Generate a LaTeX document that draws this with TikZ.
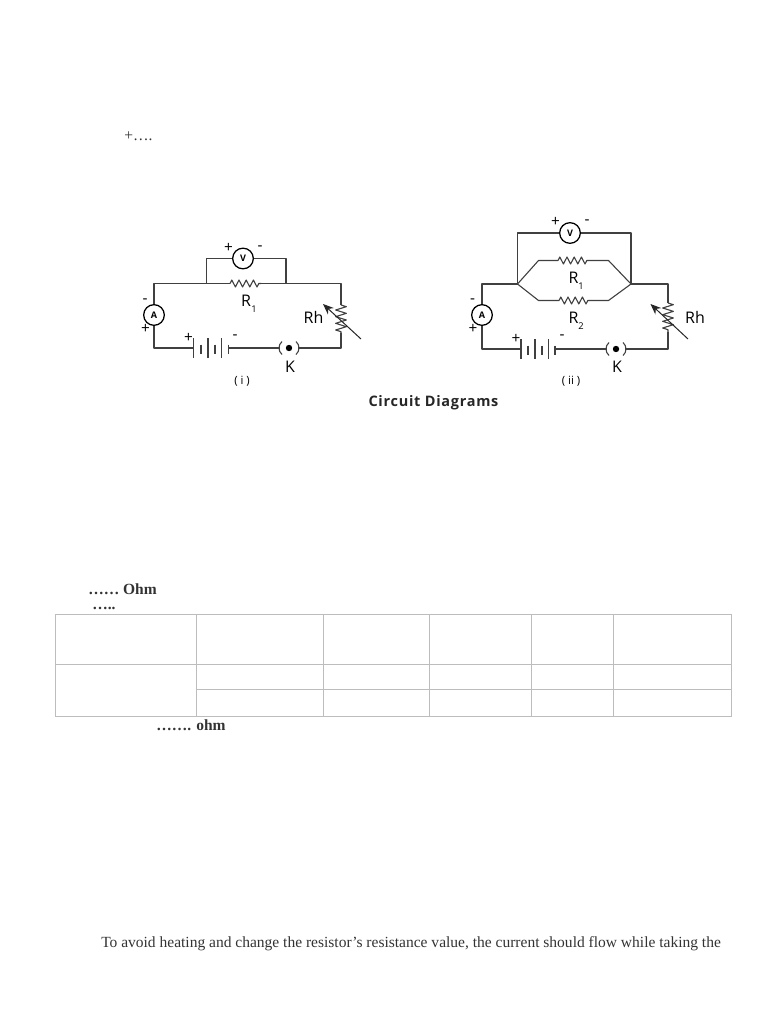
\documentclass[tikz,border=0pt]{standalone}
\usepackage{fontspec}
\setmainfont{Liberation Serif}
\newfontfamily\labfont{Open Sans}
\newfontfamily\titlefont[LetterSpace=5]{Open Sans}
\usetikzlibrary{decorations.pathmorphing,arrows.meta}
\definecolor{wirec}{HTML}{404040}
\definecolor{txtc}{HTML}{333333}
\definecolor{gridc}{HTML}{BDBDBD}
\tikzset{
  x=0.75pt,y=-0.75pt,
  wire/.style={draw=wirec,line width=0.82pt,line join=round},
  plate/.style={draw=wirec,line width=0.82pt},
  meter/.style={circle,draw=black,line width=0.95pt,minimum size=15.5pt,inner sep=0pt,fill=white,font=\labfont\bfseries\fontsize{6.8}{7}\selectfont},
  sym/.style={inner sep=0pt,text=black,font=\labfont\fontsize{11.5}{12}\selectfont},
  lab/.style={inner sep=0pt,text=black,font=\labfont\fontsize{12}{13}\selectfont},
  sub/.style={inner sep=0pt,text=black,font=\labfont\fontsize{7}{8}\selectfont},
  roman/.style={inner sep=0pt,text=black,font=\labfont\fontsize{8.5}{9}\selectfont},
  page/.style={inner sep=0pt,anchor=west,text=txtc,font=\fontsize{11.63}{13}\selectfont},
  pageb/.style={page,font=\fontsize{11.63}{13}\selectfont\bfseries},
  grid/.style={draw=gridc,line width=0.6pt},
  zig/.style={wire,decoration={zigzag,amplitude=2.6pt,segment length=5.4pt},decorate},
  zigv/.style={wire,decoration={zigzag,amplitude=4pt,segment length=5pt},decorate},
  sense/.style={draw=black!85,line width=0.75pt,-{Stealth[length=8pt,width=6.5pt]}},
  contact/.style={circle,fill=black,minimum size=4.8pt,inner sep=0pt},
  arcw/.style={draw=wirec,line width=0.82pt}
}
\begin{document}
\begin{tikzpicture}
\useasboundingbox (0,0) rectangle (768,1024);
\fill[white] (0,0) rectangle (768,1024);

% page texts
\node[page] (t1) at (124,136) {+….};
\node[pageb] (t2) at (88,589) {…… Ohm};
\node[pageb] (t3) at (92,608) {…..};
\node[pageb] (t4) at (156,725.5) {……. ohm};
\node[page] (t5) at (101,944) {To avoid heating and change the resistor’s resistance value, the current should flow while taking the};
\node[inner sep=0pt,font=\titlefont\bfseries\fontsize{10.85}{12}\selectfont,text=black!85] (title) at (433.5,403) {Circuit Diagrams};

% table
\draw[grid] (55,614) rectangle (731,716);
\draw[grid] (55,664) -- (731,664);
\draw[grid] (196,689) -- (731,689);
\foreach \xx in {196,323,429,531,613} \draw[grid] (\xx,614) -- (\xx,716);

% ---------- circuit (i) ----------
\coordinate (aTL) at (154,283.5);
\coordinate (aTR) at (341,283.5);
\coordinate (aBR) at (341,348);
\coordinate (aBL) at (154,348);
\coordinate (aJ1) at (206.5,283.5);
\coordinate (aJ2) at (286,283.5);
\coordinate (aV1) at (206.5,258.5);
\coordinate (aV2) at (286,258.5);
\coordinate (aR1) at (230,283.5);
\coordinate (aR2) at (261,283.5);
\coordinate (aH1) at (341,305);
\coordinate (aH2) at (341,333);
\coordinate (aB1) at (193.5,348);
\coordinate (aB6) at (228.5,348);
\coordinate (aS1) at (280,348);
\coordinate (aS2) at (298,348);
\coordinate (aA1) at (361,339);
\coordinate (aA2) at (323,304);
\node[meter] (aV) at (243,258.5) {V};
\node[meter] (aA) at (154,315) {A};
\node[contact] (aK) at (289,348) {};
\draw[wire] (aV) -- (aV1) -- (aJ1);
\draw[wire] (aV) -- (aV2) -- (aJ2);
\draw[wire] (aA) -- (aTL) -- (aR1);
\draw[zig] (aR1) -- (aR2);
\draw[wire] (aR2) -- (aTR) -- (aH1);
\draw[zigv] (aH1) -- (aH2);
\draw[wire] (aH2) -- (aBR) -- (aS2);
\draw[wire] (aS1) -- (aB6);
\draw[wire] (aB1) -- (aBL) -- (aA);
\draw[sense] (aA1) -- (aA2);
\draw[plate] (193.5,338) -- (193.5,358);
\draw[plate] (201,344.5) -- (201,354);
\draw[plate] (208,338) -- (208,358);
\draw[plate] (215,344.5) -- (215,354);
\draw[plate] (221.5,338) -- (221.5,358);
\draw[plate] (228.5,344.5) -- (228.5,354);
\draw[arcw] (282,341.5) .. controls (278,345) and (278,351) .. (282,354.5);
\draw[arcw] (296,341.5) .. controls (300,345) and (300,351) .. (296,354.5);
\node[sym] (aVp) at (228.5,248) {+};
\node[sym] (aVm) at (260,248) {-};
\node[sym] (aAm) at (145,301) {-};
\node[sym] (aAp) at (145.5,329) {+};
\node[sym] (aBp) at (188.5,338) {+};
\node[sym] (aBm) at (235,337.5) {-};
\node[lab] (aR) at (246,301) {R};
\node[sub] (aRs) at (254,309) {1};
\node[lab] (aRh) at (313.5,317) {Rh};
\node[lab] (aKl) at (290,367) {K};
\node[roman] (aN) at (242,381) {( i )};

% ---------- circuit (ii) ----------
\coordinate (bTL) at (482,284);
\coordinate (bTR) at (668,284);
\coordinate (bBR) at (668,349);
\coordinate (bBL) at (482,349);
\coordinate (bJ1) at (517.5,284);
\coordinate (bJ2) at (631,284);
\coordinate (bV1) at (517.5,233);
\coordinate (bV2) at (631,233);
\coordinate (bP1) at (538.5,260.5);
\coordinate (bP2) at (558,260.5);
\coordinate (bP3) at (588,260.5);
\coordinate (bP4) at (608.5,260.5);
\coordinate (bQ1) at (538.5,300.5);
\coordinate (bQ2) at (559,300.5);
\coordinate (bQ3) at (589,300.5);
\coordinate (bQ4) at (608.5,300.5);
\coordinate (bH1) at (668,303);
\coordinate (bH2) at (668,332);
\coordinate (bB1) at (521,349);
\coordinate (bB6) at (555,349);
\coordinate (bS1) at (607,349);
\coordinate (bS2) at (625,349);
\coordinate (bA1) at (688,339);
\coordinate (bA2) at (650.5,304);
\node[meter] (bV) at (570,233) {V};
\node[meter] (bA) at (482,315) {A};
\node[contact] (bK) at (616,349) {};
\draw[wire] (bV) -- (bV1) -- (bJ1);
\draw[wire] (bV) -- (bV2) -- (bJ2);
\draw[wire] (bA) -- (bTL) -- (bJ1);
\draw[wire] (bJ1) -- (bP1) -- (bP2);
\draw[zig] (bP2) -- (bP3);
\draw[wire] (bP3) -- (bP4) -- (bJ2);
\draw[wire] (bJ1) -- (bQ1) -- (bQ2);
\draw[zig] (bQ2) -- (bQ3);
\draw[wire] (bQ3) -- (bQ4) -- (bJ2);
\draw[wire] (bJ2) -- (bTR) -- (bH1);
\draw[zigv] (bH1) -- (bH2);
\draw[wire] (bH2) -- (bBR) -- (bS2);
\draw[wire] (bS1) -- (bB6);
\draw[wire] (bB1) -- (bBL) -- (bA);
\draw[sense] (bA1) -- (bA2);
\draw[plate] (521,339) -- (521,359);
\draw[plate] (528,345.5) -- (528,355);
\draw[plate] (535,339) -- (535,359);
\draw[plate] (542,345.5) -- (542,355);
\draw[plate] (548.5,339) -- (548.5,359);
\draw[plate] (555,345.5) -- (555,355);
\draw[arcw] (609,342.5) .. controls (605,346) and (605,352) .. (609,355.5);
\draw[arcw] (623,342.5) .. controls (627,346) and (627,352) .. (623,355.5);
\node[sym] (bVp) at (555.5,222) {+};
\node[sym] (bVm) at (587,222.5) {-};
\node[sym] (bAm) at (472.5,301) {-};
\node[sym] (bAp) at (473,329) {+};
\node[sym] (bBp) at (516,338.5) {+};
\node[sym] (bBm) at (562,337.5) {-};
\node[lab] (bR1) at (573.5,278) {R};
\node[sub] (bR1s) at (581,286) {1};
\node[lab] (bR2) at (573.5,318) {R};
\node[sub] (bR2s) at (581,326) {2};
\node[lab] (bRh) at (695,317) {Rh};
\node[lab] (bKl) at (617,367) {K};
\node[roman] (bN) at (571,381) {( ii )};
\end{tikzpicture}
\end{document}
